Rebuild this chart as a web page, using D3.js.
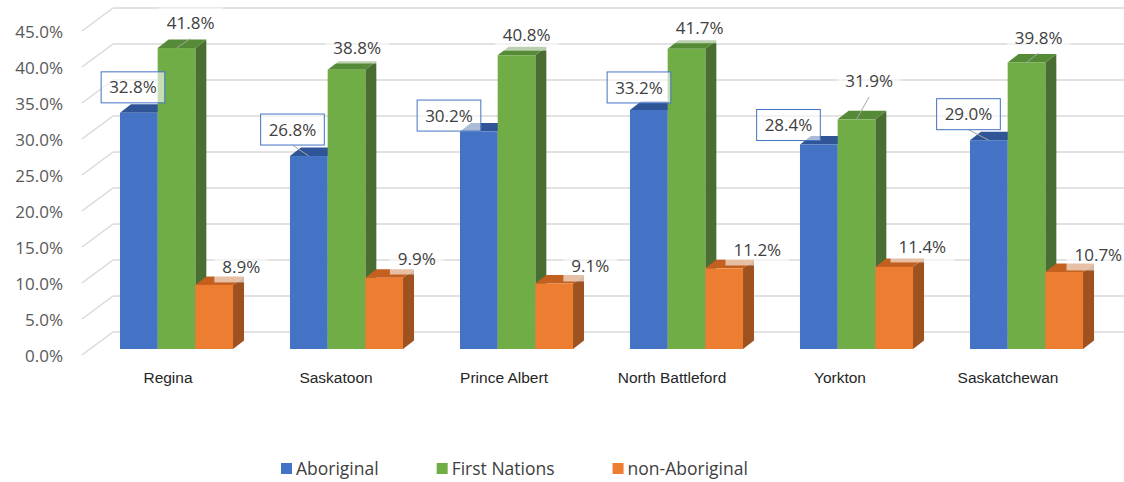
<!DOCTYPE html>
<html>
<head>
<meta charset="utf-8">
<script src="https://cdn.jsdelivr.net/npm/d3@7"></script>
<style>
  html, body { margin: 0; padding: 0; background: #ffffff; }
  svg { display: block; font-family: "Open Sans", "Noto Sans", sans-serif; }
</style>
</head>
<body>
<svg id="chart" width="1124" height="482"></svg>
<script>
// ---- data ----
const categories = ["Regina", "Saskatoon", "Prince Albert", "North Battleford", "Yorkton", "Saskatchewan"];
const seriesNames = ["Aboriginal", "First Nations", "non-Aboriginal"];
const aboriginal = [32.8, 26.8, 30.2, 33.2, 28.4, 29.0];
const firstNations = [41.8, 38.8, 40.8, 41.7, 31.9, 39.8];
const nonAboriginal = [8.9, 9.9, 9.1, 11.2, 11.4, 10.7];
const yTicks = [0, 5, 10, 15, 20, 25, 30, 35, 40, 45];

// ---- styling ----
const faceColors = ["#4472C4", "#70AD47", "#ED7D31"];
const topColors = ["#2F5597", "#558A36", "#C4601F"];
const sideColors = ["#2F528F", "#4A6E31", "#9E5220"];

// label placement: offset of each label centre from its bar's front-left/top corner
const labelShift = [
  [[13, -25.5], [2.5, -26.5], [-11, -16], [9, -22.5], [-11.5, -19.5], [-1.5, -26]],
  [[33, -25], [29.5, -21.6], [29, -20], [32, -21], [31.5, -38], [31, -25]],
  [[46, -18], [51.5, -18.7], [55, -17.5], [52, -18.4], [47, -20], [53, -17]]
];
// labels pulled away from their bars get a leader line
const leaderOn = [
  [false, true, false, false, false, true],
  [true, false, false, false, true, true],
  [false, false, false, false, false, false]
];

const values = [aboriginal, firstNations, nonAboriginal];
const svg = d3.select("#chart");

// ---- projection of the 3-D box ----
const wallDepth = { dx: 31, dy: -23 };   // front plane -> back wall
const barDepth = { dx: 11, dy: -8.5 };   // thickness of each column
const barInset = -6;                      // columns stand slightly behind the front plane

const yFront = d3.scaleLinear().domain([0, 45]).range([355, 31]);
const yBack = v => yFront(v) + wallDepth.dy;
const yBar = v => yFront(v) + barInset;

const frontLeft = 82;
const backLeft = frontLeft + wallDepth.dx;

// category bands on the column plane
const xGroup = d3.scaleBand().domain(categories)
  .range([91.5, 1111.5]).paddingInner(0.335).paddingOuter(0.1675);
const xSeries = d3.scaleBand().domain(d3.range(seriesNames.length))
  .range([0, xGroup.bandwidth()]);
// category bands on the front plane (axis labels)
const xLabel = d3.scaleBand().domain(categories).range([84, 1092]);

// ---- walls & gridlines ----
const grid = svg.append("g").attr("stroke", "#D9D9D9").attr("stroke-width", 1.5).attr("fill", "none");
grid.selectAll("line.back").data(yTicks).join("line")
  .attr("class", "back")
  .attr("x1", backLeft).attr("x2", 1124)
  .attr("y1", d => yBack(d)).attr("y2", d => yBack(d));
grid.selectAll("line.side").data(yTicks).join("line")
  .attr("class", "side")
  .attr("x1", frontLeft).attr("y1", d => yFront(d))
  .attr("x2", backLeft).attr("y2", d => yBack(d));

// ---- y axis labels ----
const yAxis = svg.append("g")
  .attr("transform", "translate(63,1)")
  .call(d3.axisLeft(yFront).tickValues(yTicks).tickSize(0).tickPadding(0)
    .tickFormat(d => d.toFixed(1) + "%"));
yAxis.select(".domain").remove();
yAxis.selectAll("text")
  .attr("fill", "#595959")
  .style("font-family", "'Open Sans', sans-serif")
  .style("font-size", "17px");

// ---- category labels ----
const xAxis = svg.append("g")
  .attr("transform", "translate(0,378)")
  .call(d3.axisBottom(xLabel).tickSize(0).tickPadding(0));
xAxis.select(".domain").remove();
xAxis.selectAll("text")
  .attr("y", 0).attr("dy", "0.35em")
  .attr("fill", "#262626")
  .style("font-family", "'Liberation Sans', Arial, sans-serif")
  .style("font-size", "15.5px");

// ---- columns ----
const bw = xSeries.bandwidth();
const bars = [];
categories.forEach((cat, ci) => {
  values.forEach((arr, si) => {
    const v = arr[ci];
    bars.push({ ci, si, v, x0: xGroup(cat) + xSeries(si), yTop: yBar(v), yBot: yBar(0) });
  });
});

const colG = svg.append("g");
bars.forEach(b => {
  const g = colG.append("g");
  const { x0, yTop, yBot } = b;
  const dx = barDepth.dx, dy = barDepth.dy;
  g.append("polygon")
    .attr("points", [[x0 + bw, yTop], [x0 + bw + dx, yTop + dy], [x0 + bw + dx, yBot + dy], [x0 + bw, yBot]].join(" "))
    .attr("fill", sideColors[b.si]);
  g.append("polygon")
    .attr("points", [[x0, yTop], [x0 + dx, yTop + dy], [x0 + bw + dx, yTop + dy], [x0 + bw, yTop]].join(" "))
    .attr("fill", topColors[b.si]);
  g.append("rect")
    .attr("x", x0).attr("y", yTop)
    .attr("width", bw).attr("height", yBot - yTop)
    .attr("fill", faceColors[b.si]);
});

// ---- data labels ----
const labG = svg.append("g");
const boxH = 31;
bars.forEach(b => {
  const [ox, oy] = labelShift[b.si][b.ci];
  const cx = b.x0 + ox, cy = b.yTop + oy;
  if (leaderOn[b.si][b.ci]) {
    labG.append("line")
      .attr("x1", b.x0 + bw / 2).attr("y1", b.yTop)
      .attr("x2", cx).attr("y2", cy + boxH / 2)
      .attr("stroke", "#A6A6A6").attr("stroke-width", 1);
  }
});
bars.forEach(b => {
  const [ox, oy] = labelShift[b.si][b.ci];
  const cx = b.x0 + ox, cy = b.yTop + oy;
  const g = labG.append("g");
  const rect = g.append("rect");
  const t = g.append("text")
    .attr("x", cx).attr("y", cy)
    .attr("text-anchor", "middle").attr("dy", "0.36em")
    .attr("fill", "#404040")
    .style("font-size", "17px")
    .text(b.v.toFixed(1) + "%");
  const w = t.node().getComputedTextLength() + 16;
  rect.attr("x", cx - w / 2).attr("y", cy - boxH / 2)
    .attr("width", w).attr("height", boxH)
    .attr("fill", "#ffffff").attr("fill-opacity", 0.6)
    .attr("stroke", b.si === 0 ? "#4472C4" : "none")
    .attr("stroke-width", 1);
});

// ---- legend ----
const legend = svg.append("g");
let lx = 281;
seriesNames.forEach((name, i) => {
  legend.append("rect")
    .attr("x", lx).attr("y", 463).attr("width", 11).attr("height", 11)
    .attr("fill", faceColors[i]);
  const t = legend.append("text")
    .attr("x", lx + 15).attr("y", 469).attr("dy", "0.36em")
    .attr("fill", "#404040")
    .style("font-size", "17.5px")
    .text(name);
  lx += 15 + t.node().getComputedTextLength() + 58;
});
</script>
</body>
</html>
